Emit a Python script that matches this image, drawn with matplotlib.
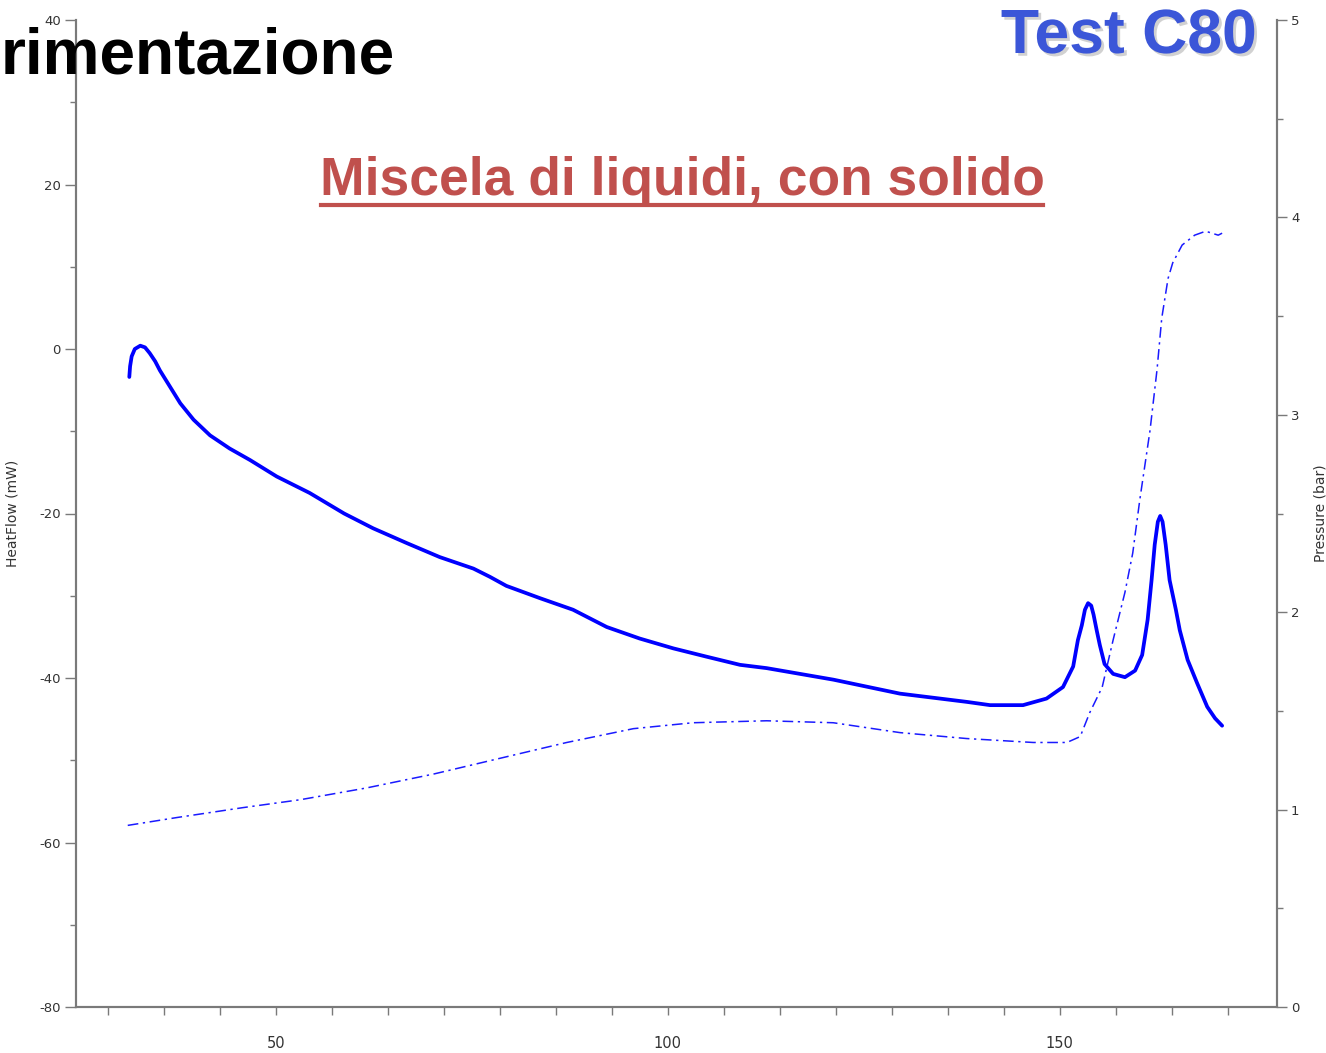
#!/usr/bin/env python3
# -*- coding: utf-8 -*-
"""C80 calorimeter run: heat flow and pressure vs temperature"""
import matplotlib

matplotlib.use("Agg")
import matplotlib.pyplot as plt
import matplotlib.patheffects as pe
import numpy as np
from matplotlib.lines import Line2D

plt.rcParams["axes.unicode_minus"] = False

# heat flow curve (temperature in C, heat flow in mW)
hf_temp = [31.3, 31.4, 31.6, 32.0, 32.7, 33.3, 33.9, 34.6, 35.2, 36.5, 37.8, 39.5,
           41.6, 44.1, 46.7, 50.1, 54.3, 58.7, 62.4, 66.7, 70.9, 75.2, 77.3, 79.4,
           83.7, 87.9, 92.2, 96.4, 100.7, 104.9, 109.2, 112.6, 121.1, 129.6, 138.1,
           141.1, 145.3, 148.3, 150.4, 151.7, 152.3, 152.8, 153.2, 153.6, 154.0,
           154.3, 154.7, 155.1, 155.7, 156.8, 158.3, 159.6, 160.5, 161.2, 161.7,
           162.1, 162.5, 162.8, 163.1, 163.5, 164.0, 164.8, 165.3, 166.3, 167.5,
           168.8, 169.8, 170.7]
hf_value = [-3.4, -2.1, -0.9, 0.0, 0.4, 0.2, -0.5, -1.5, -2.6, -4.6, -6.6, -8.6,
            -10.5, -12.1, -13.5, -15.5, -17.5, -20.0, -21.8, -23.6, -25.3, -26.7,
            -27.7, -28.8, -30.3, -31.7, -33.8, -35.2, -36.4, -37.4, -38.4, -38.8,
            -40.2, -41.9, -42.9, -43.3, -43.3, -42.5, -41.1, -38.6, -35.4, -33.6,
            -31.7, -30.9, -31.2, -32.3, -34.2, -36.0, -38.3, -39.5, -39.9, -39.1,
            -37.2, -32.9, -28.1, -23.8, -21.0, -20.3, -21.0, -23.8, -28.1, -31.7,
            -34.2, -37.8, -40.6, -43.5, -44.9, -45.8]

# pressure curve (bar)
p_temp = [31.1, 37.4, 45.8, 53.1, 61.6, 70.1, 78.6, 87.1, 95.6, 103.2, 112.6,
          121.1, 129.6, 138.1, 146.6, 150.9, 152.6, 153.8, 155.4, 156.8, 158.3,
          159.3, 160.2, 161.5, 162.4, 163.0, 163.8, 164.4, 165.6, 167.2, 168.6,
          170.2, 170.7]
p_value = [0.92, 0.96, 1.01, 1.05, 1.11, 1.18, 1.26, 1.34, 1.41, 1.44, 1.45,
           1.44, 1.39, 1.36, 1.34, 1.34, 1.37, 1.49, 1.62, 1.86, 2.10, 2.30, 2.57,
           2.92, 3.23, 3.49, 3.69, 3.77, 3.86, 3.91, 3.93, 3.91, 3.92]

hf_ticks = [-80, -60, -40, -20, 0, 20, 40]
p_ticks = [0, 1, 2, 3, 4, 5]
x_labeled = [50, 100, 150]

W, H = 1326, 1053
fig = plt.figure(figsize=(W / 100, H / 100), dpi=100)
ax = fig.add_axes([76 / W, 46 / H, 1201 / W, 987 / H])
ax2 = ax.twinx()

spine_col = "#7a7a7a"
label_col = "#333333"

ax.plot(hf_temp, hf_value, color="#0000ff", lw=2.7, solid_capstyle="round",
        solid_joinstyle="round", zorder=3)
ax2.plot(p_temp, p_value, color="#1a1aff", lw=1.1, linestyle=(0, (7, 3, 1.5, 3)))

ax.set_xlim(24.5, 177.7)
ax.set_ylim(-80, 40)
ax2.set_ylim(0, 5)

# x ticks every 50/7 degrees, labels only at 50, 100, 150
step = 50 / 7
xt = [50 + k * step for k in range(-3, 18)]
ax.set_xticks(xt)
ax.set_xticklabels(
    [str(int(round(v))) if any(abs(v - l) < 1e-6 for l in x_labeled) else "" for v in xt]
)
ax.tick_params(axis="x", length=6, width=1, color=spine_col, pad=15,
               labelsize=10.5, labelcolor=label_col)

ax.set_yticks(hf_ticks)
ax.set_yticks(np.arange(-70, 40, 20), minor=True)
ax.tick_params(axis="y", which="major", length=8, width=1, color=spine_col,
               labelsize=9.5, labelcolor=label_col, pad=3)
ax.tick_params(axis="y", which="minor", length=4, width=1, color=spine_col)

ax2.set_yticks(p_ticks)
ax2.set_yticks(np.arange(0.5, 5, 1.0), minor=True)
ax2.tick_params(axis="y", which="major", length=7, width=1, color=spine_col,
                labelsize=9.5, labelcolor=label_col, pad=3)
ax2.tick_params(axis="y", which="minor", length=4, width=1, color=spine_col)

for a in (ax, ax2):
    a.spines["top"].set_visible(False)
    for s in ("left", "right", "bottom"):
        a.spines[s].set_color(spine_col)
        a.spines[s].set_linewidth(1.5)

ax.set_ylabel("HeatFlow (mW)", fontsize=10, color=label_col)
ax.yaxis.set_label_coords(-0.047, 0.5)
ax2.set_ylabel("Pressure (bar)", fontsize=10, color=label_col, rotation=90)
ax2.yaxis.set_label_coords(1.03, 0.5)

# slide texts
fig.text(1 / W, 1 - 73 / H, "rimentazione", ha="left", va="baseline",
         fontsize=46, fontweight="bold", family="Liberation Sans", color="black")
fig.text(1257 / W, 1 - 53 / H, "Test C80", ha="right", va="baseline",
         fontsize=45, fontweight="bold", family="Liberation Sans", color="#3b56d8",
         path_effects=[pe.SimplePatchShadow(offset=(2, -2), shadow_rgbFace="#999999",
                                            alpha=0.45), pe.Normal()])
red = "#c0504d"
fig.text(682 / W, 1 - 195 / H, "Miscela di liquidi, con solido", ha="center",
         va="baseline", fontsize=38.4, fontweight="bold", family="Liberation Sans",
         color=red)
fig.add_artist(Line2D([321 / W, 1043 / W], [1 - 205 / H, 1 - 205 / H],
                      transform=fig.transFigure, color=red, lw=3))

fig.savefig("out.png", dpi=100)
